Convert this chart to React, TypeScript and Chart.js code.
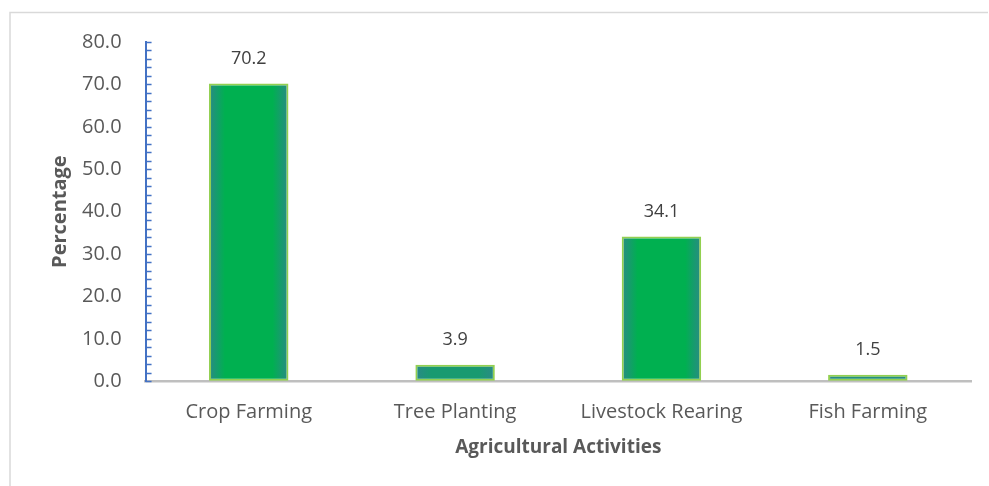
import React, { useEffect, useRef } from "react";
import { Chart, registerables } from "chart.js";

Chart.register(...registerables);

const categories = ["Crop Farming", "Tree Planting", "Livestock Rearing", "Fish Farming"];
const percentages = [70.2, 3.9, 34.1, 1.5];
const yTicks = [0, 10, 20, 30, 40, 50, 60, 70, 80];
const minorStep = 2;

const FONT = "'Open Sans', 'DejaVu Sans', sans-serif";
const TEAL = [42, 138, 134];
const GREEN = [0, 176, 80];

function mix(a: number[], b: number[], t: number) {
  const c = a.map((v, i) => Math.round(v + (b[i] - v) * t));
  return `rgb(${c[0]},${c[1]},${c[2]})`;
}

const framePlugin = {
  id: "frame",
  beforeDraw(chart: any) {
    const ctx = chart.ctx;
    ctx.save();
    ctx.strokeStyle = "#d9d9d9";
    ctx.lineWidth = 1.5;
    ctx.beginPath();
    ctx.moveTo(10, chart.height);
    ctx.lineTo(10, 12.5);
    ctx.lineTo(988, 12.5);
    ctx.stroke();
    ctx.restore();
  },
};

const minorTickPlugin = {
  id: "minorTicks",
  afterDraw(chart: any) {
    const y = chart.scales.y;
    const ctx = chart.ctx;
    const x0 = chart.chartArea.left;
    ctx.save();
    ctx.strokeStyle = "#4472c4";
    ctx.lineWidth = 1.5;
    ctx.beginPath();
    for (let v = y.min; v <= y.max + 1e-9; v += minorStep) {
      const py = Math.round(y.getPixelForValue(v)) + 0.5;
      ctx.moveTo(x0, py);
      ctx.lineTo(x0 + 6, py);
    }
    ctx.stroke();
    ctx.restore();
  },
};

const valueLabelPlugin = {
  id: "valueLabels",
  afterDatasetsDraw(chart: any) {
    const ctx = chart.ctx;
    const meta = chart.getDatasetMeta(0);
    ctx.save();
    ctx.font = `18px ${FONT}`;
    ctx.fillStyle = "#404040";
    ctx.textAlign = "center";
    ctx.textBaseline = "middle";
    meta.data.forEach((el: any, i: number) => {
      ctx.fillText(percentages[i].toFixed(1), el.x, el.y - 25);
    });
    ctx.restore();
  },
};

export default function App() {
  const ref = useRef<HTMLCanvasElement | null>(null);

  useEffect(() => {
    if (!ref.current) return;
    const chart = new Chart(ref.current, {
      type: "bar",
      data: {
        labels: categories,
        datasets: [
          {
            data: percentages,
            borderColor: "#92d050",
            borderWidth: 2,
            borderSkipped: false,
            barPercentage: 0.385,
            categoryPercentage: 1,
            backgroundColor: (c: any) => {
              const ch = c.chart;
              const xs = ch.scales && ch.scales.x;
              const ys = ch.scales && ch.scales.y;
              const fallback = mix(TEAL, GREEN, 0.85);
              if (!xs || !ys || c.dataIndex === undefined) return fallback;
              const cx = xs.getPixelForValue(c.dataIndex);
              const w = (xs.width / categories.length) * 0.385;
              const h = Math.abs(ys.getPixelForValue(0) - ys.getPixelForValue(percentages[c.dataIndex]));
              if (![cx, w, h].every((v) => Number.isFinite(v)) || w <= 0) return fallback;
              const t = Math.min(1, h / (w * 0.5));
              const g = ch.ctx.createLinearGradient(cx - w / 2, 0, cx + w / 2, 0);
              g.addColorStop(0, mix(TEAL, GREEN, 0));
              g.addColorStop(0.2, mix(TEAL, GREEN, t));
              g.addColorStop(0.8, mix(TEAL, GREEN, t));
              g.addColorStop(1, mix(TEAL, GREEN, 0));
              return g;
            },
          },
        ],
      },
      options: {
        animation: false,
        responsive: true,
        maintainAspectRatio: false,
        layout: { padding: { top: 42, right: 18, bottom: 24, left: 45 } },
        plugins: {
          legend: { display: false },
          tooltip: { enabled: false },
        },
        scales: {
          x: {
            grid: { display: false, drawTicks: false },
            border: { display: true, color: "#bfbfbf", width: 2.5 },
            ticks: {
              color: "#595959",
              font: { family: FONT, size: 20 },
              padding: 19,
            },
            title: {
              display: true,
              text: "Agricultural Activities",
              color: "#595959",
              font: { family: FONT, size: 19, weight: "bold" },
              padding: { top: -7, bottom: 3 },
            },
          },
          y: {
            min: 0,
            max: 80,
            grid: { display: true, drawOnChartArea: false, drawTicks: false, color: "rgba(0,0,0,0)" },
            border: { display: true, color: "#4472c4", width: 2, z: 1 },
            afterBuildTicks: (scale: any) => {
              scale.ticks = yTicks.map((v) => ({ value: v }));
            },
            ticks: {
              color: "#595959",
              font: { family: FONT, size: 20 },
              padding: 24,
              callback: (v: any) => Number(v).toFixed(1),
            },
            title: {
              display: true,
              text: "Percentage",
              color: "#595959",
              font: { family: FONT, size: 20, weight: "bold" },
              padding: { top: 3, bottom: -14 },
            },
          },
        },
      },
      plugins: [framePlugin, minorTickPlugin, valueLabelPlugin],
    });
    return () => chart.destroy();
  }, []);

  return (
    <div style={{ position: "absolute", left: 0, top: 0, width: 989, height: 486, background: "#fff" }}>
      <canvas ref={ref} />
    </div>
  );
}
